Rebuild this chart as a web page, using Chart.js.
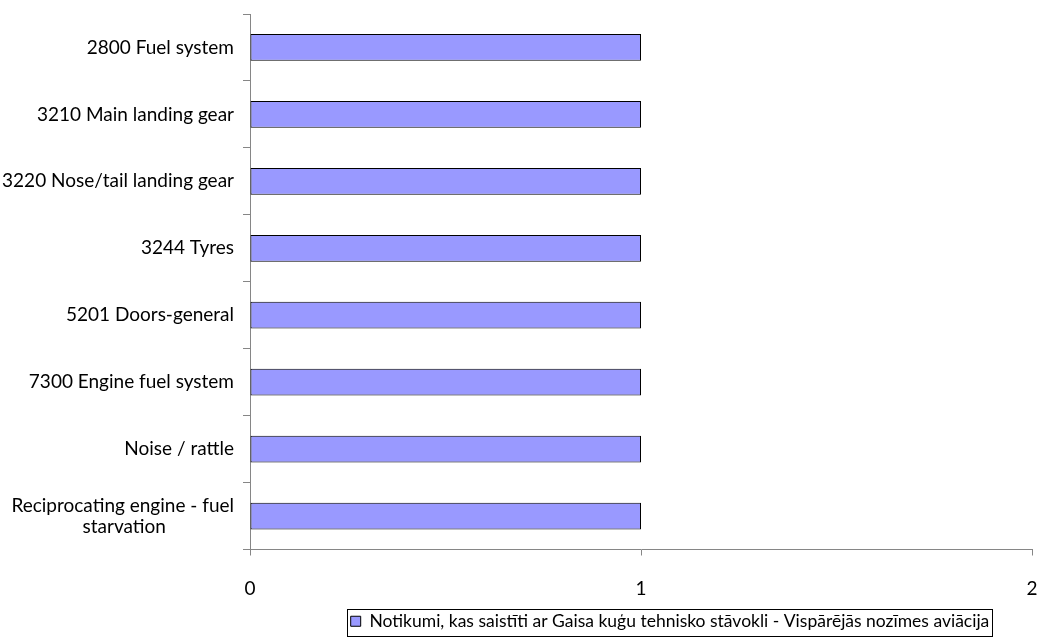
<!DOCTYPE html>
<html>
<head>
<meta charset="utf-8">
<script src="https://cdn.jsdelivr.net/npm/chart.js@4"></script>
<style>
  html, body { margin: 0; padding: 0; background: #fff; overflow: hidden; }
  #wrap { width: 1037px; height: 640px; }
  canvas { display: block; }
</style>
</head>
<body>
<div id="wrap"><canvas id="grafiks"></canvas></div>
<script>
// otrā rinda ar nbsp aizpildīta, lai tā būtu zem pirmās vidus
const kategorijas = [
  "2800 Fuel system",
  "3210 Main landing gear",
  "3220 Nose/tail landing gear",
  "3244 Tyres",
  "5201 Doors-general",
  "7300 Engine fuel system",
  "Noise / rattle",
  ["Reciprocating engine - fuel", "starvation" + "\u00A0".repeat(14)]
];
const vertibas = [1, 1, 1, 1, 1, 1, 1, 1];
const xTicks = [0, 1, 2];
const serijasNosaukums = "Notikumi, kas saistīti ar Gaisa kuģu tehnisko stāvokli - Vispārējās nozīmes aviācija";

const fonts = "Lato, Carlito, 'Open Sans', sans-serif";
const asuKrasa = "#868686";

// leģenda nobīdīta pa labi, un ap to ramis
const legendBorder = {
  id: "legendBorder",
  afterLayout(chart) {
    const lg = chart.legend;
    lg.left += 154;
    lg.right += 154;
  },
  afterDraw(chart) {
    const boxes = chart.legend.legendHitBoxes;
    if (!boxes || !boxes.length) return;
    const b = boxes[0];
    const ctx = chart.ctx;
    ctx.save();
    ctx.strokeStyle = "#000";
    ctx.lineWidth = 1;
    ctx.strokeRect(Math.round(b.left) - 3.5, Math.round(b.top) - 3.5, Math.round(b.width) + 6, 27);
    ctx.restore();
  }
};

new Chart(document.getElementById("grafiks"), {
  type: "bar",
  data: {
    labels: kategorijas,
    datasets: [{
      label: serijasNosaukums,
      data: vertibas,
      backgroundColor: "#9999FF",
      borderColor: "#000",
      borderWidth: 1,
      borderSkipped: false,
      barPercentage: 0.4,
      categoryPercentage: 1
    }]
  },
  options: {
    indexAxis: "y",
    responsive: true,
    maintainAspectRatio: false,
    animation: false,
    layout: { padding: { left: 0, right: 5, top: 14, bottom: 0 } },
    plugins: {
      legend: {
        position: "bottom",
        labels: {
          font: { family: fonts, size: 17.5 },
          color: "#000",
          boxWidth: 10,
          boxHeight: 10,
          padding: 4
        }
      },
      tooltip: { enabled: false }
    },
    scales: {
      x: {
        min: 0,
        max: 2,
        afterBuildTicks(scale) {
          scale.ticks = xTicks.map(v => ({ value: v }));
        },
        afterFit(scale) {
          scale.height = 59;
          scale.paddingLeft = 0;
          scale.paddingRight = 0;
        },
        grid: {
          drawOnChartArea: false,
          tickLength: 6,
          color: asuKrasa
        },
        border: { color: asuKrasa },
        ticks: {
          font: { family: fonts, size: 19 },
          color: "#000",
          padding: 22
        }
      },
      y: {
        afterFit(scale) {
          scale.width = 250;
          scale.paddingTop = 0;
          scale.paddingBottom = 0;
        },
        grid: {
          drawOnChartArea: false,
          offset: true,
          tickLength: 7,
          color: asuKrasa
        },
        border: { color: asuKrasa },
        ticks: {
          font: { family: fonts, size: 19, lineHeight: 1.1 },
          color: "#000",
          padding: 9,
          autoSkip: false
        }
      }
    }
  },
  plugins: [legendBorder]
});
</script>
</body>
</html>
